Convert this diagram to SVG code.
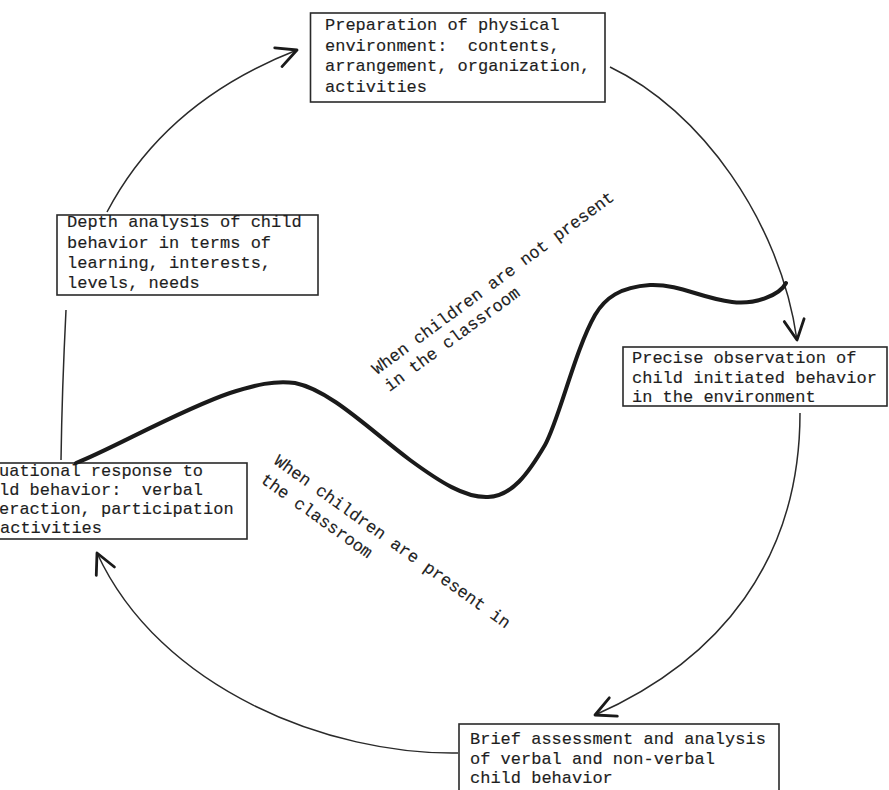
<svg xmlns="http://www.w3.org/2000/svg" width="889" height="790" viewBox="0 0 889 790">
  <style>
    .box{fill:#fff;stroke:#2a2a2a;stroke-width:1.6}
    .t{font-family:"Liberation Mono","Courier New",monospace;font-size:17px;fill:#1e1e1e;stroke:#1e1e1e;stroke-width:0.15;white-space:pre}
    .conn{fill:none;stroke:#2a2a2a;stroke-width:1.5}
    .wave{fill:none;stroke:#1a1a1a;stroke-width:4;stroke-linecap:round;stroke-linejoin:round}
  </style>
  <defs>
    <marker id="ah" markerUnits="userSpaceOnUse" viewBox="-26 -16 30 32" refX="0" refY="0" markerWidth="30" markerHeight="32" orient="auto" overflow="visible">
      <path d="M-20,-10 L0,0 L-20,10" fill="none" stroke="#1a1a1a" stroke-width="2.8" stroke-linecap="round" stroke-linejoin="round"/>
    </marker>
  </defs>
  <rect width="889" height="790" fill="#fff"/>

  <g id="node-preparation">
    <rect class="box" x="310.5" y="13" width="294.5" height="89"/>
    <text class="t" x="325" y="30">Preparation of physical</text>
    <text class="t" x="325" y="50.5" xml:space="preserve">environment:  contents,</text>
    <text class="t" x="325" y="71">arrangement, organization,</text>
    <text class="t" x="325" y="91.5">activities</text>
  </g>
  <g id="node-depth">
    <rect class="box" x="57" y="215" width="261" height="80"/>
    <text class="t" x="67" y="227">Depth analysis of child</text>
    <text class="t" x="67" y="248">behavior in terms of</text>
    <text class="t" x="67" y="268">learning, interests,</text>
    <text class="t" x="67" y="288">levels, needs</text>
  </g>
  <g id="node-precise">
    <rect class="box" x="623" y="347" width="264" height="59"/>
    <text class="t" x="632" y="363">Precise observation of</text>
    <text class="t" x="632" y="382.5">child initiated behavior</text>
    <text class="t" x="632" y="402">in the environment</text>
  </g>
  <g id="node-situational">
    <rect class="box" x="-40" y="463" width="287" height="76"/>
    <text class="t" x="-1" y="476">uational response to</text>
    <text class="t" x="-1" y="495" xml:space="preserve">ld behavior:  verbal</text>
    <text class="t" x="-1" y="514">eraction, participation</text>
    <text class="t" x="0" y="533">activities</text>
  </g>
  <g id="node-brief">
    <rect class="box" x="459" y="724" width="320" height="80"/>
    <text class="t" x="470" y="744">Brief assessment and analysis</text>
    <text class="t" x="470" y="763.5">of verbal and non-verbal</text>
    <text class="t" x="470" y="783">child behavior</text>
  </g>

  <g id="connectors">
    <path class="conn" d="M107,212 C150,130 220,80 297,50" marker-end="url(#ah)"/>
    <path class="conn" d="M610,67 C700,110 780,220 797,340" marker-end="url(#ah)"/>
    <path class="conn" d="M800,413 C800,560 720,660 595,715" marker-end="url(#ah)"/>
    <path class="conn" d="M458,753 C330,755 160,690 97,553" marker-end="url(#ah)"/>
    <path class="conn" d="M66,310 Q62,390 61,460"/>
    <path class="wave" d="M76,463 C110,450 180,410 230,393 C255,385 275,380 295,383 C330,390 370,430 410,460 C440,482 465,498 488,497 C512,496 528,474 545,445 C559,420 575,350 595,315 C605,298 620,287 650,285 C680,284 700,298 732,302 C755,305 780,295 786,283"/>
  </g>

  <g id="labels">
    <g transform="translate(377,375) rotate(-36.4)">
      <text class="t" x="0" y="0">When children are not present</text>
      <text class="t" x="0" y="21">in the classroom</text>
    </g>
    <g transform="translate(273,463) rotate(35.5)">
      <text class="t" x="0" y="0">When children are present in</text>
      <text class="t" x="0" y="23">the classroom</text>
    </g>
  </g>
</svg>
